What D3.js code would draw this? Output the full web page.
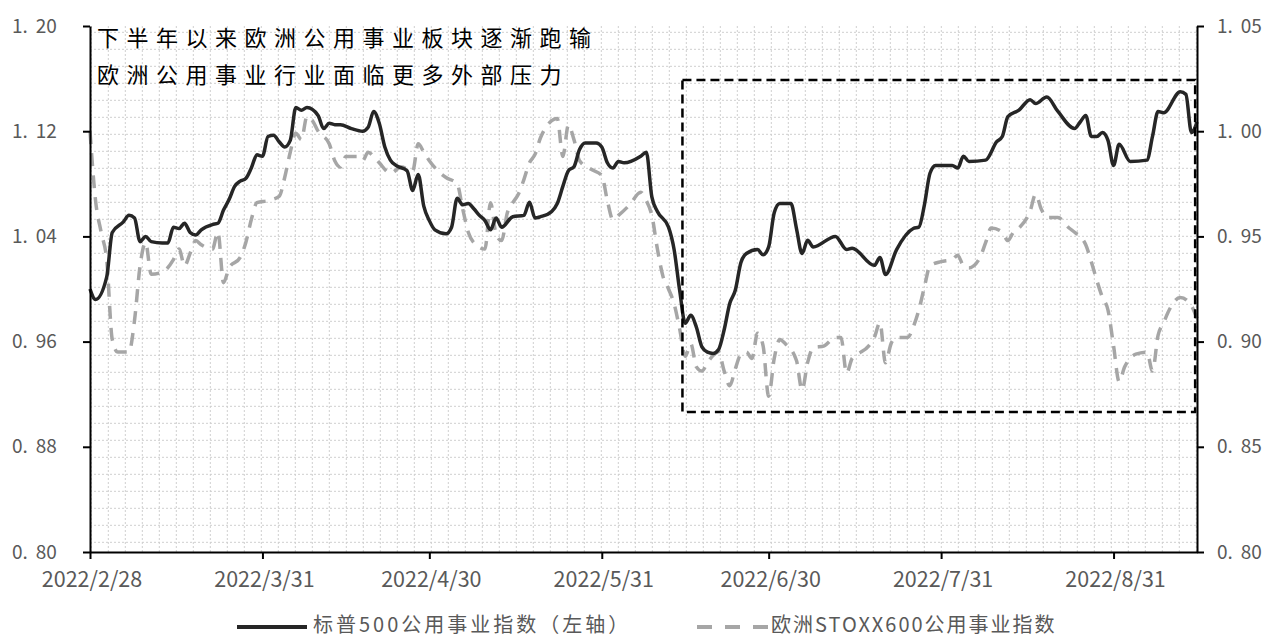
<!DOCTYPE html>
<html><head><meta charset="utf-8">
<script src="https://cdn.jsdelivr.net/npm/d3@7"></script>
<style>body{margin:0;background:#fff;} svg{display:block;}</style>
</head><body>
<svg id="chart" width="1266" height="637"></svg>
<script>
// ---------- data ----------
const titleLines = ["下半年以来欧洲公用事业板块逐渐跑输", "欧洲公用事业行业面临更多外部压力"];
const seriesNames = ["标普500公用事业指数（左轴）", "欧洲STOXX600公用事业指数"];
const xTickDates = ["2022-02-28","2022-03-31","2022-04-30","2022-05-31","2022-06-30","2022-07-31","2022-08-31"];
const xTickLabels = ["2022/2/28","2022/3/31","2022/4/30","2022/5/31","2022/6/30","2022/7/31","2022/8/31"];
const xDomain = ["2022-02-28","2022-09-15"];
const leftTicks = [0.80, 0.88, 0.96, 1.04, 1.12, 1.20];
const rightTicks = [0.80, 0.85, 0.90, 0.95, 1.00, 1.05];
const boxDates = ["2022-06-14T12:00", "2022-09-14T16:00"];
const boxValues = [0.9065, 1.159];

const spxDates = ["2022-02-28","2022-03-01","2022-03-03","2022-03-04","2022-03-06","2022-03-07","2022-03-08","2022-03-09","2022-03-10","2022-03-11",
"2022-03-13","2022-03-14","2022-03-15","2022-03-16","2022-03-17","2022-03-18","2022-03-19","2022-03-20","2022-03-22","2022-03-23",
"2022-03-24","2022-03-25","2022-03-26","2022-03-27","2022-03-28","2022-03-29","2022-03-30","2022-03-31","2022-04-01","2022-04-02",
"2022-04-03","2022-04-04","2022-04-05","2022-04-06","2022-04-07","2022-04-08","2022-04-10","2022-04-11","2022-04-12","2022-04-13",
"2022-04-14","2022-04-16","2022-04-18","2022-04-19","2022-04-20","2022-04-21","2022-04-22","2022-04-23","2022-04-24","2022-04-26",
"2022-04-27","2022-04-28","2022-04-29","2022-04-30","2022-05-01","2022-05-03","2022-05-04","2022-05-05","2022-05-06","2022-05-07",
"2022-05-08","2022-05-09","2022-05-10","2022-05-11","2022-05-12","2022-05-13","2022-05-15","2022-05-17","2022-05-18","2022-05-19",
"2022-05-20","2022-05-22","2022-05-23","2022-05-24","2022-05-25","2022-05-26","2022-05-27","2022-05-28","2022-05-30","2022-05-31",
"2022-06-01","2022-06-02","2022-06-03","2022-06-04","2022-06-07","2022-06-08","2022-06-09","2022-06-10","2022-06-12","2022-06-13",
"2022-06-14","2022-06-15","2022-06-16","2022-06-17","2022-06-18","2022-06-19","2022-06-20","2022-06-21","2022-06-22","2022-06-23",
"2022-06-24","2022-06-25","2022-06-26","2022-06-28","2022-06-29","2022-06-30","2022-07-01","2022-07-02","2022-07-04","2022-07-05",
"2022-07-06","2022-07-07","2022-07-08","2022-07-12","2022-07-14","2022-07-15","2022-07-19","2022-07-20","2022-07-21","2022-07-23",
"2022-07-26","2022-07-27","2022-07-28","2022-07-29","2022-07-30","2022-08-02","2022-08-03","2022-08-04","2022-08-05","2022-08-08",
"2022-08-10","2022-08-11","2022-08-12","2022-08-14","2022-08-16","2022-08-17","2022-08-19","2022-08-21","2022-08-24","2022-08-25",
"2022-08-26","2022-08-27","2022-08-28","2022-08-29","2022-08-30","2022-08-31","2022-09-01","2022-09-03","2022-09-06","2022-09-07",
"2022-09-08","2022-09-09","2022-09-12","2022-09-13","2022-09-14","2022-09-15"];
const spxValues = [1.000,0.992,1.009,1.043,1.051,1.056,1.054,1.036,1.040,1.036,
1.035,1.035,1.047,1.046,1.050,1.043,1.041,1.045,1.049,1.050,
1.060,1.068,1.078,1.082,1.084,1.092,1.102,1.101,1.116,1.117,
1.112,1.108,1.113,1.138,1.136,1.138,1.132,1.122,1.126,1.125,
1.125,1.122,1.120,1.123,1.135,1.126,1.108,1.098,1.094,1.090,
1.075,1.087,1.063,1.052,1.045,1.042,1.047,1.069,1.064,1.065,
1.061,1.056,1.052,1.045,1.054,1.047,1.055,1.056,1.066,1.054,
1.055,1.059,1.065,1.078,1.090,1.093,1.106,1.111,1.111,1.108,
1.096,1.092,1.097,1.096,1.101,1.104,1.070,1.059,1.047,1.030,
0.999,0.974,0.980,0.971,0.956,0.952,0.951,0.954,0.969,0.989,
0.999,1.020,1.027,1.030,1.026,1.032,1.058,1.065,1.065,1.046,
1.027,1.037,1.032,1.040,1.030,1.031,1.018,1.024,1.011,1.030,
1.046,1.047,1.064,1.088,1.094,1.094,1.092,1.101,1.097,1.098,
1.112,1.116,1.131,1.136,1.144,1.141,1.146,1.135,1.122,1.127,
1.132,1.116,1.116,1.119,1.113,1.094,1.110,1.097,1.098,1.116,
1.135,1.134,1.150,1.148,1.119,1.127];

const stoxxDates = ["2022-02-28","2022-03-01","2022-03-02","2022-03-03","2022-03-04","2022-03-05","2022-03-07","2022-03-08","2022-03-09","2022-03-10",
"2022-03-11","2022-03-13","2022-03-15","2022-03-16","2022-03-17","2022-03-18","2022-03-19","2022-03-20","2022-03-22","2022-03-23",
"2022-03-24","2022-03-25","2022-03-27","2022-03-28","2022-03-29","2022-03-30","2022-04-01","2022-04-03","2022-04-04","2022-04-05",
"2022-04-06","2022-04-07","2022-04-08","2022-04-09","2022-04-10","2022-04-12","2022-04-13","2022-04-14","2022-04-15","2022-04-17",
"2022-04-18","2022-04-19","2022-04-20","2022-04-21","2022-04-23","2022-04-25","2022-04-27","2022-04-28","2022-04-29","2022-04-30",
"2022-05-02","2022-05-03","2022-05-05","2022-05-06","2022-05-07","2022-05-08","2022-05-10","2022-05-11","2022-05-12","2022-05-13",
"2022-05-14","2022-05-15","2022-05-16","2022-05-17","2022-05-18","2022-05-19","2022-05-20","2022-05-21","2022-05-22","2022-05-23",
"2022-05-24","2022-05-25","2022-05-26","2022-05-27","2022-05-29","2022-05-31","2022-06-01","2022-06-02","2022-06-03","2022-06-05",
"2022-06-07","2022-06-08","2022-06-09","2022-06-10","2022-06-11","2022-06-12","2022-06-13","2022-06-14","2022-06-15","2022-06-16",
"2022-06-17","2022-06-18","2022-06-19","2022-06-21","2022-06-22","2022-06-23","2022-06-24","2022-06-25","2022-06-26","2022-06-27",
"2022-06-28","2022-06-29","2022-06-30","2022-07-01","2022-07-02","2022-07-03","2022-07-05","2022-07-06","2022-07-07","2022-07-08",
"2022-07-10","2022-07-12","2022-07-13","2022-07-14","2022-07-15","2022-07-16","2022-07-18","2022-07-19","2022-07-20","2022-07-21",
"2022-07-22","2022-07-23","2022-07-25","2022-07-26","2022-07-27","2022-07-28","2022-07-29","2022-07-31","2022-08-02","2022-08-03",
"2022-08-04","2022-08-05","2022-08-07","2022-08-08","2022-08-09","2022-08-11","2022-08-12","2022-08-13","2022-08-14","2022-08-16",
"2022-08-17","2022-08-18","2022-08-19","2022-08-21","2022-08-23","2022-08-24","2022-08-26","2022-08-27","2022-08-28","2022-08-29",
"2022-08-30","2022-08-31","2022-09-01","2022-09-02","2022-09-04","2022-09-06","2022-09-07","2022-09-08","2022-09-09","2022-09-10",
"2022-09-12","2022-09-14","2022-09-15"];
const stoxxValues = [1.000,0.967,0.952,0.939,0.901,0.895,0.895,0.910,0.936,0.947,
0.932,0.933,0.939,0.944,0.936,0.942,0.948,0.946,0.944,0.952,
0.928,0.935,0.940,0.947,0.958,0.966,0.967,0.969,0.978,0.990,
0.999,0.996,1.007,1.005,1.000,0.994,0.986,0.983,0.988,0.988,
0.986,0.990,0.988,0.985,0.980,0.983,0.981,0.994,0.990,0.986,
0.980,0.978,0.975,0.963,0.952,0.947,0.944,0.966,0.951,0.948,
0.961,0.966,0.970,0.977,0.985,0.989,0.997,1.002,1.005,1.006,
0.988,1.003,0.996,0.986,0.982,0.979,0.967,0.958,0.960,0.965,
0.971,0.967,0.960,0.944,0.931,0.925,0.918,0.906,0.893,0.899,
0.888,0.886,0.890,0.895,0.886,0.879,0.887,0.894,0.895,0.892,
0.904,0.898,0.874,0.892,0.901,0.899,0.891,0.877,0.890,0.897,
0.898,0.902,0.902,0.885,0.892,0.894,0.898,0.902,0.909,0.890,
0.899,0.902,0.902,0.907,0.915,0.926,0.936,0.938,0.939,0.941,
0.936,0.935,0.940,0.947,0.954,0.952,0.948,0.952,0.954,0.962,
0.970,0.963,0.959,0.959,0.954,0.952,0.946,0.938,0.929,0.921,
0.915,0.898,0.881,0.888,0.894,0.895,0.886,0.903,0.909,0.915,
0.921,0.917,0.911];

// ---------- layout ----------
const L = 90, R = 1197, T = 26, B = 552;
const parseDay = d3.timeParse("%Y-%m-%d");
const parseDT = d3.timeParse("%Y-%m-%dT%H:%M");

const svg = d3.select("#chart");
const x = d3.scaleTime().domain(xDomain.map(parseDay)).range([L, R]);
const yL = d3.scaleLinear().domain([0.80, 1.20]).range([B, T]);
const yR = d3.scaleLinear().domain([0.80, 1.05]).range([B, T]);

// background grid (uniform square dotted pattern)
const gridStep = 17;
const grid = svg.append("g").attr("stroke", "#cfcfcf").attr("stroke-width", 1).attr("stroke-dasharray", "2,2");
for (let gx = L + 1.3; gx < R - 0.5; gx += gridStep) {
  grid.append("line").attr("x1", gx).attr("x2", gx).attr("y1", T).attr("y2", B);
}
for (let gy = B - 9.7; gy > T; gy -= gridStep) {
  grid.append("line").attr("x1", L).attr("x2", R).attr("y1", gy).attr("y2", gy);
}

// lines
const spx = spxDates.map((d, i) => ({ d: parseDay(d), v: spxValues[i] }));
const stoxx = stoxxDates.map((d, i) => ({ d: parseDay(d), v: stoxxValues[i] }));

svg.append("path").datum(stoxx)
  .attr("fill", "none").attr("stroke", "#a6a6a6").attr("stroke-width", 3.5)
  .attr("stroke-dasharray", "13,9")
  .attr("d", d3.line().x(p => x(p.d)).y(p => yR(p.v)).curve(d3.curveMonotoneX));

svg.append("path").datum(spx)
  .attr("fill", "none").attr("stroke", "#262626").attr("stroke-width", 3.5)
  .attr("stroke-linejoin", "round")
  .attr("d", d3.line().x(p => x(p.d)).y(p => yL(p.v)).curve(d3.curveMonotoneX));

// dashed highlight box
const bx0 = x(parseDT(boxDates[0])), bx1 = x(parseDT(boxDates[1]));
const by0 = yL(boxValues[1]), by1 = yL(boxValues[0]);
svg.append("rect").attr("x", bx0).attr("y", by0).attr("width", bx1 - bx0).attr("height", by1 - by0)
  .attr("fill", "none").attr("stroke", "#000").attr("stroke-width", 2.5).attr("stroke-dasharray", "9,5");

// axes
const fmt2 = d3.format(".2f");
function splitLabel(sel, v) {
  const s = fmt2(v); const p = s.split(".");
  sel.text(null);
  sel.append("tspan").text(p[0] + ".");
  sel.append("tspan").attr("dx", 8).text(p[1]);
}
const axisFont = "'Noto Sans CJK SC', 'Noto Sans', sans-serif";

const gl = svg.append("g").attr("transform", `translate(${L},0)`)
  .call(d3.axisLeft(yL).tickValues(leftTicks).tickSize(7).tickSizeOuter(0).tickFormat(""));
const gr = svg.append("g").attr("transform", `translate(${R},0)`)
  .call(d3.axisRight(yR).tickValues(rightTicks).tickSize(7).tickSizeOuter(0).tickFormat(""));
const gb = svg.append("g").attr("transform", `translate(0,${B})`)
  .call(d3.axisBottom(x).tickValues(xTickDates.map(parseDay)).tickSize(7).tickSizeOuter(0).tickFormat(""));
[gl, gr, gb].forEach(g => {
  g.select(".domain").attr("stroke", "#000").attr("stroke-width", 2);
  g.selectAll(".tick line").attr("stroke", "#000").attr("stroke-width", 2);
});

svg.append("g").selectAll("text").data(leftTicks).join("text")
  .attr("x", 12).attr("y", d => yL(d)).attr("dy", "0.35em")
  .attr("font-family", axisFont).attr("font-size", 19).attr("fill", "#595959")
  .each(function(d) { splitLabel(d3.select(this), d); });
svg.append("g").selectAll("text").data(rightTicks).join("text")
  .attr("x", 1217).attr("y", d => yR(d)).attr("dy", "0.35em")
  .attr("font-family", axisFont).attr("font-size", 19).attr("fill", "#595959")
  .each(function(d) { splitLabel(d3.select(this), d); });
svg.append("g").selectAll("text").data(xTickDates).join("text")
  .attr("x", d => x(parseDay(d)) + 2).attr("y", 579).attr("dy", "0.35em").attr("text-anchor", "middle")
  .attr("font-family", axisFont).attr("font-size", 21.5).attr("fill", "#595959")
  .text((d, i) => xTickLabels[i]);

// title
svg.append("g").selectAll("text").data(titleLines).join("text")
  .attr("x", 97).attr("y", (d, i) => 38 + i * 37).attr("dy", "0.36em")
  .attr("font-family", "'Noto Sans CJK SC', sans-serif").attr("font-size", 22)
  .attr("letter-spacing", 7.5).attr("fill", "#000")
  .text(d => d);

// legend
const lg = svg.append("g");
const legY = 625;
lg.append("line").attr("x1", 237).attr("x2", 307).attr("y1", legY + 2).attr("y2", legY + 2)
  .attr("stroke", "#262626").attr("stroke-width", 4);
lg.append("text").attr("x", 313).attr("y", legY).attr("dy", "0.34em")
  .attr("font-family", axisFont).attr("font-size", 20).attr("letter-spacing", 3).attr("fill", "#595959")
  .text(seriesNames[0]);
lg.append("line").attr("x1", 697).attr("x2", 768).attr("y1", legY + 2).attr("y2", legY + 2)
  .attr("stroke", "#a6a6a6").attr("stroke-width", 4).attr("stroke-dasharray", "15,13");
lg.append("text").attr("x", 771).attr("y", legY).attr("dy", "0.34em")
  .attr("font-family", axisFont).attr("font-size", 20).attr("letter-spacing", 2).attr("fill", "#595959")
  .text(seriesNames[1]);
</script>
</body></html>
